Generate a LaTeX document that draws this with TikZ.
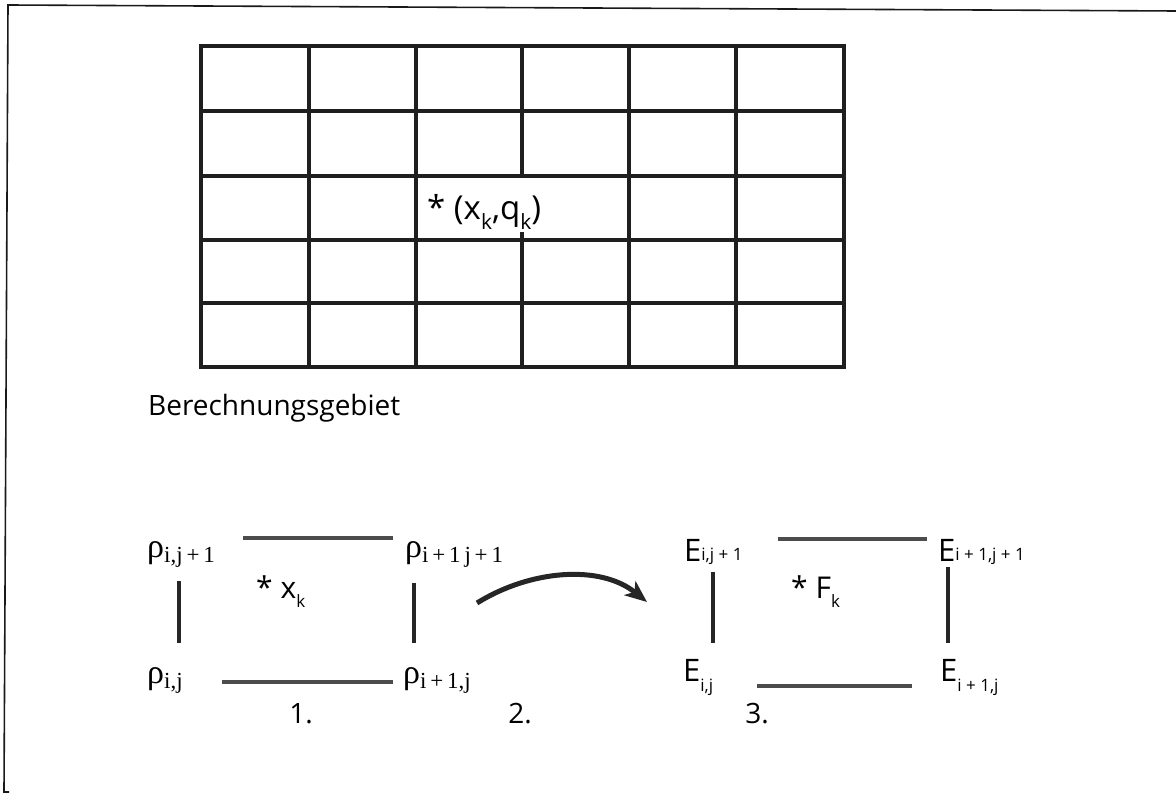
\documentclass[tikz,border=0pt]{standalone}
\usepackage[no-math]{fontspec}
\setmainfont{Open Sans}
\newfontfamily\serifgr{Liberation Serif}
\usetikzlibrary{arrows.meta}
\newcommand\sbs[3][0.32em]{#2\raisebox{-#1}{\fontsize{17}{17}\selectfont #3}}
\newcommand\bsub[2]{#1\raisebox{-0.3em}{\fontsize{21}{21}\selectfont #2}}
\newcommand\rsub[1]{{\serifgr ρ\raisebox{-5pt}{\fontsize{23}{23}\selectfont #1}}}
\begin{document}
\begin{tikzpicture}[x=1pt,y=-1pt,
  gridline/.style={line width=4.5pt, black!88},
  bar/.style={line width=4pt, black!85},
  hbar/.style={line width=4pt, black!70},
  lbl/.style={inner sep=0pt, anchor=base west},
  sanslbl/.style={lbl, font=\fontsize{28}{28}\selectfont},
  elbl/.style={lbl, font=\fontsize{31}{31}\selectfont},
  rholbl/.style={lbl, font=\fontsize{34}{34}\selectfont}]
\useasboundingbox (0,0) rectangle (1176,794);
% frame
\draw[line width=1.6pt, black!90] (1176,11) -- (8,5) -- (4,792) -- (9,792);
% grid
\foreach \y in {46,111,176,240,303,367} \draw[gridline] (199,\y) -- (846,\y);
\foreach \x in {201,309,416,629,736,844} \draw[gridline] (\x,44) -- (\x,369);
\draw[gridline] (522,44) -- (522,176);
\draw[gridline] (522,232) -- (522,369);
\node[lbl, font=\fontsize{33}{33}\selectfont] (xq) at (427,220) {* (\bsub{x}{k},\bsub{q}{k})};
\node[sanslbl] (title) at (148,415) {Berechnungsgebiet};
% step 1
\node[rholbl] (r01) at (147,557) {\rsub{i,j\,+\,1}};
\node[rholbl] (r11) at (405,557) {\rsub{i\,+\,1\,j\,+\,1}};
\node[rholbl] (r00) at (147,683) {\rsub{i,j}};
\node[rholbl] (r10) at (403,683) {\rsub{i\,+\,1,j}};
\node[lbl, font=\fontsize{30}{30}\selectfont] (xk) at (256,598) {* \sbs{x}{k}};
\coordinate (t1a) at (243,538); \coordinate (t1b) at (393,538);
\coordinate (b1a) at (222,682); \coordinate (b1b) at (393,682);
\coordinate (l1a) at (179,581); \coordinate (l1b) at (179,643);
\coordinate (q1a) at (414,583); \coordinate (q1b) at (414,643);
\draw[hbar] (t1a) -- (t1b);
\draw[hbar] (b1a) -- (b1b);
\draw[bar] (l1a) -- (l1b);
\draw[bar] (q1a) -- (q1b);
% step 3
\node[elbl] (e01) at (684,561) {\sbs[-1pt]{E}{i,j + 1}};
\node[elbl] (e11) at (938,561) {\sbs[-1pt]{E}{i + 1,j + 1}};
\node[elbl] (e00) at (683,681) {\sbs[10pt]{E}{i,j}};
\node[elbl] (e10) at (940,681) {\sbs[10pt]{E}{i + 1,j}};
\node[lbl, font=\fontsize{30}{30}\selectfont] (fk) at (791,598) {* \sbs{F}{k}};
\coordinate (t3a) at (778,539); \coordinate (t3b) at (927,539);
\coordinate (b3a) at (757,686); \coordinate (b3b) at (912,686);
\coordinate (l3a) at (713,572); \coordinate (l3b) at (713,643);
\coordinate (q3a) at (948,567); \coordinate (q3b) at (948,643);
\draw[hbar] (t3a) -- (t3b);
\draw[hbar] (b3a) -- (b3b);
\draw[bar] (l3a) -- (l3b);
\draw[bar] (q3a) -- (q3b);
% arrow
\coordinate (a0) at (477,603);
\coordinate (a1) at (647,602);
\draw[line width=5pt, black!85, -{Stealth[length=22pt,width=18pt,inset=6pt]}] (a0) .. controls (530,570) and (600,564) .. (a1);
% step numbers
\node[sanslbl, anchor=base] (n1) at (301,723) {1.};
\node[sanslbl, anchor=base] (n2) at (520,723) {2.};
\node[sanslbl, anchor=base] (n3) at (757,723) {3.};
\end{tikzpicture}
\end{document}
